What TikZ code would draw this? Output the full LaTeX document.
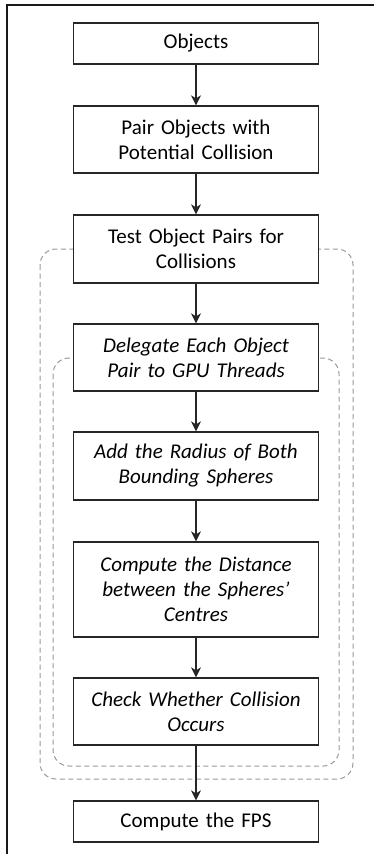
\documentclass[tikz,border=0pt]{standalone}
\usepackage{fontspec}
\setmainfont{Carlito}
\usetikzlibrary{arrows.meta}
\begin{document}
\begin{tikzpicture}[x=1pt,y=-1pt,
  stepbox/.style={draw=black!85, line width=1.3pt, fill=white, minimum width=245pt, text width=235pt, align=center, inner sep=0pt, font=\fontsize{21}{25}\selectfont},
  itbox/.style={stepbox, font=\fontsize{21}{25}\selectfont\itshape},
  flow/.style={draw=black!85, line width=1.3pt, -{Stealth[length=10pt,width=10pt,inset=3pt]}},
  group/.style={draw=black!40, line width=1pt, dash pattern=on 5pt off 3.5pt, rounded corners=16pt}]
\useasboundingbox (0,0) rectangle (374,854);
\fill[white] (0,0) rectangle (374,854);
\draw[line width=2pt, black!90] (7,854) -- (7,5) -- (374,5);
\draw[group] (40,249) rectangle (353,779);
\draw[group] (53,358) rectangle (339,766);
\node[stepbox, minimum height=41pt] (obj) at (196,43.5) {Objects};
\node[stepbox, minimum height=67pt] (pair) at (196,139.5) {Pair Objects with\\Potential Collision};
\node[stepbox, minimum height=68pt] (test) at (196,249) {Test Object Pairs for\\Collisions};
\node[itbox, minimum height=67pt] (deleg) at (196,357.5) {Delegate Each Object\\Pair to GPU Threads};
\node[itbox, minimum height=68pt] (add) at (196,466) {Add the Radius of Both\\Bounding Spheres};
\node[itbox, minimum height=95pt] (dist) at (196,589.5) {Compute the Distance\\between the Spheres’\\Centres};
\node[itbox, minimum height=67pt] (check) at (196,711.5) {Check Whether Collision\\Occurs};
\node[stepbox, minimum height=41pt] (fps) at (196,821.5) {Compute the FPS};
\draw[flow] (obj) -- (pair);
\draw[flow] (pair) -- (test);
\draw[flow] (test) -- (deleg);
\draw[flow] (deleg) -- (add);
\draw[flow] (add) -- (dist);
\draw[flow] (dist) -- (check);
\draw[flow] (check) -- (fps);
\end{tikzpicture}
\end{document}
